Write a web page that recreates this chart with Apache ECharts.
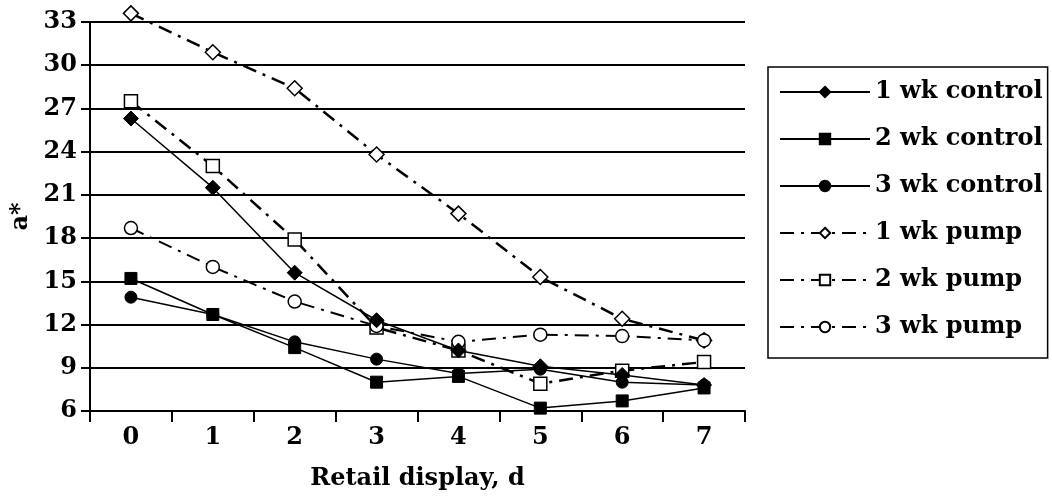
<!DOCTYPE html>
<html>
<head>
<meta charset="utf-8">
<script src="https://cdn.jsdelivr.net/npm/echarts@6/dist/echarts.min.js"></script>
<style>
html,body{margin:0;padding:0;background:#fff;}
#chart{width:1052px;height:500px;}
</style>
</head>
<body>
<div id="chart"></div>
<script>
var categories = ['0','1','2','3','4','5','6','7'];
var wk1Control = [26.3, 21.5, 15.6, 12.3, 10.2, 9.1, 8.5, 7.8];
var wk2Control = [15.2, 12.7, 10.4, 8.0, 8.4, 6.2, 6.7, 7.6];
var wk3Control = [13.9, 12.7, 10.8, 9.6, 8.6, 8.9, 8.0, 7.8];
var wk1Pump = [33.6, 30.9, 28.4, 23.8, 19.7, 15.3, 12.4, 10.9];
var wk2Pump = [27.5, 23.0, 17.9, 11.8, 10.2, 7.9, 8.8, 9.4];
var wk3Pump = [18.7, 16.0, 13.6, 11.9, 10.8, 11.3, 11.2, 10.9];
var yTicks = [6, 9, 12, 15, 18, 21, 24, 27, 30, 33];

var FONT = '"DejaVu Serif", "Liberation Serif", serif';
var dashDot = [14, 7, 3, 7];

function ctrl(name, data, symbol, size) {
  return {
    name: name, type: 'line', data: data,
    symbol: symbol, symbolSize: size,
    lineStyle: {color: '#000', width: 1.5, type: 'solid'},
    itemStyle: {color: '#000', borderColor: '#000', borderWidth: 1},
    clip: false, z: 3
  };
}
function pump(name, data, symbol, size, w) {
  return {
    name: name, type: 'line', data: data,
    symbol: symbol, symbolSize: size,
    lineStyle: {color: '#000', width: w, type: dashDot},
    itemStyle: {color: '#fff', borderColor: '#000', borderWidth: 1.5},
    clip: false, z: 2
  };
}

var chart = echarts.init(document.getElementById('chart'), null, {renderer: 'canvas'});
chart.setOption({
  animation: false,
  backgroundColor: '#fff',
  textStyle: {fontFamily: FONT},
  grid: {left: 90, right: 307, top: 22, bottom: 89, containLabel: false},
  legend: {
    orient: 'vertical',
    left: 768, top: 67,
    padding: [12, 5, 18, 11],
    borderColor: '#000', borderWidth: 1.5, borderRadius: 0,
    itemWidth: 90, itemHeight: 13, itemGap: 21,
    textStyle: {fontFamily: FONT, fontWeight: 'bold', fontSize: 24, color: '#000', lineHeight: 26},
    data: ['1 wk control', '2 wk control', '3 wk control', '1 wk pump', '2 wk pump', '3 wk pump']
  },
  xAxis: {
    type: 'category', data: categories, boundaryGap: true,
    name: 'Retail display, d', nameLocation: 'middle', nameGap: 56,
    nameTextStyle: {fontFamily: FONT, fontWeight: 'bold', fontSize: 24, color: '#000'},
    axisLine: {lineStyle: {color: '#000', width: 2}},
    axisTick: {show: true, length: 11, lineStyle: {color: '#000', width: 2}},
    axisLabel: {fontFamily: FONT, fontWeight: 'bold', fontSize: 24, color: '#000', margin: 15},
    splitLine: {show: false}
  },
  yAxis: {
    type: 'value', min: yTicks[0], max: yTicks[yTicks.length - 1], interval: 3,
    name: 'a*', nameLocation: 'middle', nameGap: 54, nameRotate: 90,
    nameTextStyle: {fontFamily: FONT, fontWeight: 'bold', fontSize: 24, color: '#000'},
    axisLine: {show: true, lineStyle: {color: '#000', width: 2}},
    axisTick: {show: true, inside: false, length: 9, lineStyle: {color: '#000', width: 2}},
    axisLabel: {fontFamily: FONT, fontWeight: 'bold', fontSize: 24, color: '#000', margin: 13},
    splitLine: {show: true, lineStyle: {color: '#000', width: 2}}
  },
  series: [
    ctrl('1 wk control', wk1Control, 'diamond', 15),
    ctrl('2 wk control', wk2Control, 'rect', 12),
    ctrl('3 wk control', wk3Control, 'circle', 12),
    pump('1 wk pump', wk1Pump, 'diamond', 15, 2.5),
    pump('2 wk pump', wk2Pump, 'rect', 13, 2.5),
    pump('3 wk pump', wk3Pump, 'circle', 13, 2)
  ]
});
</script>
</body>
</html>
